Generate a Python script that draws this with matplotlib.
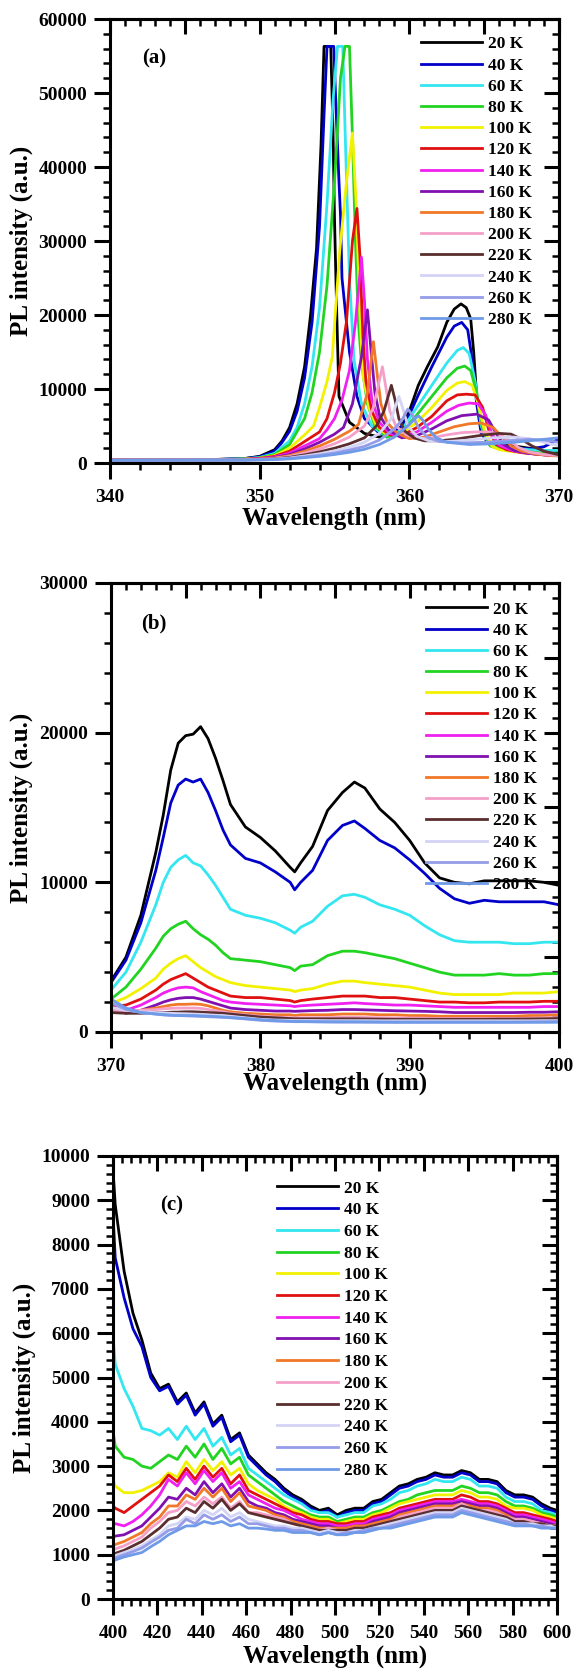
import matplotlib
matplotlib.use("Agg")
import matplotlib.pyplot as plt
from matplotlib.ticker import MultipleLocator, NullFormatter, FormatStrFormatter

plt.rcParams["font.family"] = ["Liberation Serif", "DejaVu Serif"]
plt.rcParams["font.weight"] = "bold"
plt.rcParams["axes.labelweight"] = "bold"

temps = ["20 K", "40 K", "60 K", "80 K", "100 K", "120 K", "140 K",
         "160 K", "180 K", "200 K", "220 K", "240 K", "260 K", "280 K"]
colors = ["#000000", "#0000c8", "#33e6f0", "#22d422", "#f2f200", "#e01010", "#f020f0",
          "#8010b0", "#f07828", "#f4a0c8", "#5a2e2e", "#d4d4f6", "#959ce8", "#6e9ae8"]

# (a) near band edge: (wavelength nm, intensity) per temperature
spec_a = [
    [(340, 420), (344, 440), (347, 480), (349, 600), (350, 900), (351, 1800), (351.5, 3000), (352, 4800),
     (352.5, 8000), (353, 13000), (353.4, 20000), (353.8, 29000), (354.1, 43000), (354.3, 56300),
     (354.75, 56300), (354.9, 45000), (355.0, 33000), (355.15, 20200), (355.3, 9000), (356, 5500),
     (357, 4000), (358, 3500), (359, 4000), (359.5, 5000), (360, 7000), (360.6, 10500), (361.2, 13000),
     (361.9, 15700), (362.5, 19000), (363, 20800), (363.45, 21500), (363.8, 21000), (364.1, 19500),
     (364.3, 15000), (364.5, 9000), (364.8, 4700), (365.3, 2800), (366, 2500), (367, 2300), (368, 2000),
     (369, 1700), (370, 1400)],
    [(340, 420), (344, 440), (347, 470), (349, 600), (350, 850), (351, 1600), (351.5, 2800), (352, 4300),
     (352.5, 7000), (353, 11500), (353.5, 19000), (354, 32000), (354.3, 47000), (354.5, 56300),
     (354.95, 56300), (355.1, 48000), (355.3, 38000), (355.4, 33500), (355.5, 25000), (356, 15000),
     (356.5, 9000), (357, 6000), (358, 4000), (359, 4200), (359.5, 5000), (360, 6500), (360.6, 9200),
     (361.5, 13000), (362.5, 17000), (363, 18500), (363.5, 19000), (363.9, 18000), (364.2, 14000),
     (364.5, 8000), (364.8, 4000), (365.3, 2600), (366, 2300), (367, 2100), (368, 1900), (369, 2200),
     (369.6, 2800), (370, 3300)],
    [(340, 410), (344, 430), (347, 460), (349, 560), (350, 750), (351, 1300), (352, 3000), (352.5, 4800),
     (353, 8000), (353.5, 13000), (354, 21000), (354.5, 35000), (354.9, 49000), (355.2, 56300),
     (355.55, 56300), (355.75, 42000), (356, 25000), (356.3, 14000), (356.8, 8000), (357.5, 5000),
     (358.5, 3500), (359.5, 4500), (360.5, 7500), (361.5, 10500), (362.5, 13500), (363.2, 15200),
     (363.6, 15600), (364, 14800), (364.4, 11000), (364.8, 5000), (365.3, 2600), (366, 2200), (367, 2000),
     (368, 1800), (369, 1700), (370, 1700)],
    [(340, 410), (344, 430), (347, 450), (349, 540), (350, 700), (351, 1150), (352, 2500), (353, 6000),
     (353.5, 9500), (354, 15000), (354.5, 24000), (355, 38000), (355.4, 52000), (355.7, 56300),
     (356.0, 56300), (356.2, 44000), (356.4, 30000), (356.6, 19000), (356.8, 13500), (357.2, 8000),
     (357.7, 5000), (358.5, 3500), (359.5, 4200), (360.5, 6500), (361.5, 9000), (362.5, 11500),
     (363.2, 12800), (363.7, 13100), (364.1, 12500), (364.5, 9500), (364.9, 4500), (365.4, 2300),
     (366, 1900), (367, 1700), (368, 1500), (369, 1300), (370, 1200)],
    [(340, 405), (344, 425), (347, 450), (349, 520), (350, 650), (351, 1000), (352, 2000), (353, 3800),
     (353.6, 5000), (354, 7500), (354.5, 11000), (354.85, 14300), (355.35, 28700), (355.8, 38000),
     (356.2, 44600), (356.45, 35000), (356.7, 20000), (356.9, 12000), (357.3, 7500), (357.8, 5000),
     (358.5, 3800), (359.5, 4000), (360.5, 5500), (361.5, 7500), (362.5, 9800), (363.2, 10800),
     (363.7, 11000), (364.2, 10500), (364.6, 8000), (365, 4500), (365.5, 2300), (366, 1800), (367, 1500),
     (368, 1300), (369, 1150), (370, 1100)],
    [(340, 400), (344, 420), (347, 440), (349, 500), (350, 620), (351, 900), (352, 1600), (353, 2900),
     (354, 4200), (354.5, 6000), (355, 9500), (355.4, 13500), (355.8, 19100), (356.2, 30000),
     (356.5, 34400), (356.7, 28000), (356.9, 17000), (357.1, 11000), (357.5, 7000), (358, 4800),
     (358.7, 3800), (359.5, 3700), (360.5, 4800), (361.5, 6300), (362.5, 8400), (363.2, 9200),
     (363.8, 9300), (364.4, 9200), (364.9, 7500), (365.3, 4500), (365.8, 2500), (366.5, 1800),
     (367.5, 1400), (368.5, 1200), (369.5, 1050), (370, 1000)],
    [(340, 400), (344, 415), (347, 435), (349, 480), (350, 580), (351, 820), (352, 1350), (353, 2300),
     (354, 3300), (354.5, 4500), (355, 6000), (355.5, 8500), (356, 12500), (356.4, 19000), (356.8, 27800),
     (357.0, 22000), (357.2, 14000), (357.5, 8500), (358, 5500), (358.7, 4000), (359.5, 3500),
     (360.5, 4200), (361.5, 5500), (362.5, 7000), (363.3, 7800), (364, 8100), (364.6, 8000), (365.1, 6500),
     (365.5, 4000), (366, 2400), (367, 1600), (368, 1300), (369, 1100), (370, 1000)],
    [(340, 395), (344, 410), (347, 430), (349, 460), (350, 540), (351, 740), (352, 1150), (353, 1900),
     (354, 2800), (355, 3900), (355.6, 4800), (356.2, 8000), (356.8, 14300), (357.2, 20700),
     (357.45, 15000), (357.7, 9500), (358, 6500), (358.6, 4500), (359.5, 3400), (360.5, 3700),
     (361.5, 4600), (362.5, 5700), (363.5, 6400), (364.5, 6600), (365.3, 5800), (365.8, 4000),
     (366.3, 2500), (367, 1700), (368, 1300), (369, 1100), (370, 1000)],
    [(340, 390), (344, 405), (347, 425), (349, 450), (350, 520), (351, 680), (352, 1000), (353, 1600),
     (354, 2300), (355, 3200), (356, 4300), (356.6, 5200), (357.2, 9500), (357.6, 16400), (357.85, 12000),
     (358.1, 8000), (358.5, 5500), (359.2, 4000), (360, 3300), (361, 3500), (362, 4200), (363, 4900),
     (364, 5300), (364.8, 5400), (365.6, 4800), (366.2, 3500), (366.8, 2300), (367.5, 1600),
     (368.5, 1200), (369.5, 1000), (370, 950)],
    [(340, 385), (344, 400), (347, 420), (349, 440), (350, 500), (351, 620), (352, 880), (353, 1350),
     (354, 1900), (355, 2600), (356, 3500), (357, 5000), (357.6, 7500), (358.2, 13000), (358.45, 10000),
     (358.7, 7000), (359.1, 5000), (359.8, 3800), (360.5, 3300), (361.5, 3400), (362.5, 3800),
     (363.5, 4100), (364.5, 4200), (365.3, 4200), (366, 3900), (366.7, 3000), (367.3, 2100), (368, 1500),
     (369, 1150), (370, 1000)],
    [(340, 380), (344, 395), (347, 410), (349, 420), (350, 470), (351, 570), (352, 760), (353, 1100),
     (354, 1500), (355, 2000), (356, 2600), (357, 3400), (357.8, 5000), (358.3, 7000), (358.8, 10500),
     (359.05, 8500), (359.3, 6000), (359.7, 4300), (360.3, 3400), (361, 3000), (362, 3000), (363, 3200),
     (364, 3500), (365, 3800), (366, 4000), (366.8, 3900), (367.5, 3200), (368.2, 2300), (369, 1600),
     (370, 1100)],
    [(340, 380), (344, 390), (347, 400), (349, 410), (350, 450), (351, 530), (352, 680), (353, 950),
     (354, 1250), (355, 1650), (356, 2100), (357, 2800), (358, 4000), (358.8, 6000), (359.3, 9000),
     (359.55, 7500), (359.9, 5000), (360.5, 3600), (361.3, 3000), (362.5, 2900), (364, 3100),
     (365.5, 3400), (367, 3500), (368, 3300), (369, 2800), (370, 2300)],
    [(340, 375), (344, 385), (347, 395), (349, 400), (350, 430), (351, 500), (352, 620), (353, 820),
     (354, 1050), (355, 1350), (356, 1750), (357, 2250), (358, 3100), (359, 4600), (359.5, 5800),
     (359.9, 7300), (360.2, 6500), (360.6, 4800), (361.2, 3500), (362, 2900), (363.5, 2700), (365, 2800),
     (366.5, 3000), (368, 3200), (369, 3100), (370, 2800)],
    [(340, 370), (344, 380), (347, 390), (349, 395), (350, 410), (351, 470), (352, 560), (353, 720),
     (354, 900), (355, 1150), (356, 1450), (357, 1850), (358, 2500), (359, 3500), (360, 5200),
     (360.6, 6400), (360.9, 5800), (361.3, 4500), (361.8, 3400), (362.5, 2800), (364, 2500),
     (365.5, 2600), (367, 2800), (368.5, 3100), (369.5, 3300), (370, 3400)],
]

# (b) 370-400 nm, shared wavelength grid
wl_b = [370, 371, 372, 373, 373.5, 374, 374.5, 375, 375.5, 376, 376.5, 377, 377.5, 378, 379, 380,
        381, 382, 382.3, 382.7, 383.5, 384.5, 385.5, 386.3, 387, 388, 389, 390, 391, 392, 393, 394,
        395, 396, 397, 398, 399, 400]
pl_b = [
    [3400, 5000, 7800, 12000, 14500, 17500, 19300, 19800, 19900, 20400, 19600, 18300, 16800, 15200,
     13700, 13000, 12100, 11000, 10700, 11300, 12400, 14800, 16000, 16700, 16300, 14900, 14000, 12800,
     11300, 10300, 10000, 9900, 10100, 10100, 10100, 10100, 10000, 9800],
    [3300, 4800, 7300, 10800, 13000, 15300, 16500, 16900, 16700, 16900, 16000, 14800, 13500, 12500,
     11600, 11300, 10700, 10000, 9500, 10000, 10800, 12800, 13800, 14100, 13600, 12800, 12300, 11500,
     10600, 9600, 8900, 8600, 8800, 8700, 8700, 8700, 8700, 8500],
    [2800, 4000, 6000, 8500, 10000, 11000, 11500, 11800, 11300, 11100, 10500, 9800, 9000, 8200,
     7800, 7600, 7300, 6800, 6600, 7000, 7400, 8400, 9100, 9200, 9000, 8500, 8200, 7800,
     7100, 6500, 6100, 6000, 6000, 6000, 5900, 5900, 6000, 6000],
    [2200, 3000, 4200, 5600, 6400, 6900, 7200, 7400, 6900, 6500, 6200, 5800, 5300, 4900,
     4800, 4700, 4500, 4300, 4100, 4400, 4500, 5100, 5400, 5400, 5300, 5100, 4900, 4600,
     4300, 4000, 3800, 3800, 3800, 3900, 3800, 3800, 3900, 3900],
    [1900, 2300, 2900, 3600, 4200, 4600, 4900, 5100, 4700, 4300, 4000, 3700, 3500, 3300,
     3100, 3000, 2900, 2800, 2700, 2800, 2900, 3200, 3400, 3400, 3300, 3200, 3100, 3000,
     2800, 2600, 2500, 2500, 2500, 2500, 2600, 2600, 2600, 2700],
    [1700, 1800, 2200, 2800, 3200, 3500, 3700, 3900, 3600, 3300, 3000, 2800, 2600, 2400,
     2300, 2300, 2200, 2100, 2000, 2100, 2200, 2300, 2400, 2400, 2400, 2300, 2300, 2200,
     2100, 2000, 2000, 1950, 1950, 2000, 2000, 2000, 2050, 2050],
    [1500, 1450, 1800, 2300, 2600, 2800, 2950, 3000, 2950, 2700, 2500, 2300, 2100, 2000,
     1900, 1850, 1800, 1750, 1700, 1750, 1800, 1850, 1900, 1950, 1900, 1850, 1800, 1800,
     1750, 1700, 1650, 1650, 1650, 1650, 1650, 1650, 1700, 1700],
    [1700, 1250, 1450, 1800, 2000, 2150, 2250, 2300, 2300, 2200, 2050, 1900, 1750, 1600,
     1500, 1450, 1400, 1400, 1380, 1400, 1430, 1450, 1500, 1500, 1480, 1450, 1420, 1400,
     1380, 1350, 1300, 1300, 1300, 1300, 1300, 1320, 1320, 1350],
    [1550, 1300, 1450, 1600, 1700, 1800, 1850, 1850, 1870, 1850, 1750, 1600, 1450, 1350,
     1250, 1200, 1150, 1150, 1100, 1150, 1150, 1150, 1200, 1200, 1200, 1150, 1150, 1100,
     1100, 1050, 1050, 1050, 1050, 1050, 1050, 1100, 1100, 1150],
    [1450, 1400, 1450, 1500, 1550, 1580, 1600, 1600, 1600, 1580, 1500, 1420, 1350, 1250,
     1150, 1050, 1000, 950, 950, 950, 950, 960, 980, 980, 970, 950, 940, 930,
     920, 900, 900, 900, 900, 900, 900, 920, 940, 950],
    [1300, 1250, 1250, 1300, 1300, 1320, 1330, 1350, 1350, 1330, 1300, 1280, 1250, 1200,
     1100, 1000, 950, 900, 880, 880, 880, 880, 880, 880, 870, 860, 850, 850,
     850, 850, 850, 850, 850, 860, 860, 870, 880, 900],
    [1650, 1450, 1350, 1300, 1280, 1250, 1230, 1220, 1200, 1180, 1150, 1120, 1100, 1050,
     950, 850, 800, 780, 770, 770, 770, 760, 760, 760, 760, 750, 750, 750,
     750, 750, 750, 750, 750, 750, 750, 750, 760, 760],
    [1950, 1500, 1300, 1200, 1150, 1120, 1100, 1080, 1060, 1040, 1020, 1000, 980, 950,
     870, 780, 730, 700, 690, 690, 680, 670, 660, 660, 660, 660, 660, 660,
     660, 660, 660, 660, 660, 660, 660, 670, 680, 700],
    [2200, 1600, 1300, 1200, 1150, 1120, 1100, 1100, 1100, 1080, 1060, 1030, 1000, 970,
     900, 820, 760, 720, 700, 700, 690, 680, 680, 680, 670, 660, 650, 650,
     650, 650, 650, 650, 650, 650, 650, 650, 650, 650],
]

# (c) visible range 400-600 nm, shared wavelength grid
wl_c = [400, 401, 405, 409, 413, 417, 421, 425, 429, 433, 437, 441, 445, 449, 453, 457, 461, 465,
        469, 473, 477, 481, 485, 489, 493, 497, 501, 505, 509, 513, 517, 521, 525, 529, 533, 537,
        541, 545, 549, 553, 557, 561, 565, 569, 573, 577, 581, 585, 589, 593, 597, 600]
pl_c = [
    [9700, 8900, 7400, 6450, 5850, 5100, 4750, 4850, 4450, 4650, 4200, 4450, 3950, 4150, 3600, 3750,
     3250, 3050, 2850, 2700, 2500, 2350, 2250, 2100, 2000, 2050, 1900, 2000, 2050, 2050, 2200, 2250,
     2400, 2550, 2600, 2700, 2750, 2850, 2800, 2800, 2900, 2850, 2700, 2700, 2650, 2450, 2350, 2350,
     2300, 2150, 2050, 2000],
    [8700, 7700, 6800, 6100, 5700, 5000, 4700, 4800, 4400, 4600, 4150, 4400, 3900, 4100, 3550, 3700,
     3200, 3000, 2800, 2650, 2450, 2300, 2200, 2050, 1950, 2000, 1850, 1950, 2000, 2000, 2150, 2200,
     2350, 2500, 2550, 2650, 2700, 2800, 2750, 2750, 2850, 2800, 2650, 2650, 2600, 2400, 2300, 2300,
     2250, 2100, 2000, 1950],
    [5950, 5300, 4750, 4350, 3850, 3800, 3700, 3850, 3600, 3900, 3600, 3850, 3450, 3650, 3250, 3400,
     2950, 2800, 2650, 2500, 2350, 2250, 2150, 2000, 1950, 1950, 1850, 1900, 1950, 1950, 2100, 2150,
     2250, 2400, 2450, 2550, 2600, 2700, 2650, 2650, 2750, 2700, 2550, 2550, 2500, 2300, 2200, 2200,
     2150, 2000, 1950, 1900],
    [3800, 3450, 3200, 3150, 3000, 2950, 3100, 3250, 3150, 3450, 3200, 3500, 3150, 3400, 3050, 3200,
     2800, 2650, 2500, 2350, 2200, 2100, 2000, 1900, 1850, 1850, 1750, 1800, 1850, 1850, 1950, 2000,
     2100, 2200, 2250, 2350, 2400, 2450, 2450, 2450, 2550, 2500, 2400, 2400, 2350, 2200, 2100, 2100,
     2050, 1950, 1900, 1850],
    [2700, 2550, 2400, 2400, 2450, 2550, 2650, 2850, 2750, 3100, 2850, 3150, 2900, 3100, 2800, 2950,
     2600, 2450, 2350, 2250, 2100, 2000, 1950, 1850, 1800, 1800, 1700, 1750, 1800, 1800, 1900, 1950,
     2050, 2150, 2200, 2250, 2300, 2350, 2350, 2350, 2450, 2400, 2300, 2300, 2250, 2100, 2050, 2050,
     2000, 1900, 1850, 1800],
    [2100, 2050, 1950, 2100, 2250, 2400, 2550, 2800, 2650, 2950, 2700, 3000, 2750, 2950, 2600, 2800,
     2450, 2350, 2250, 2150, 2050, 1950, 1900, 1800, 1750, 1750, 1700, 1700, 1750, 1750, 1850, 1900,
     1950, 2050, 2100, 2150, 2200, 2250, 2250, 2250, 2350, 2300, 2200, 2200, 2150, 2050, 1950, 1950,
     1900, 1850, 1800, 1750],
    [1700, 1700, 1650, 1750, 1900, 2100, 2350, 2700, 2550, 2850, 2600, 2900, 2650, 2850, 2500, 2650,
     2350, 2250, 2150, 2050, 2000, 1900, 1800, 1750, 1700, 1700, 1650, 1650, 1700, 1700, 1800, 1850,
     1900, 2000, 2050, 2100, 2150, 2200, 2200, 2200, 2250, 2200, 2150, 2150, 2100, 2000, 1900, 1900,
     1850, 1800, 1750, 1700],
    [1400, 1420, 1450, 1550, 1650, 1850, 2050, 2300, 2250, 2500, 2350, 2650, 2400, 2600, 2300, 2500,
     2200, 2100, 2050, 1950, 1900, 1800, 1750, 1700, 1650, 1650, 1600, 1600, 1650, 1650, 1750, 1800,
     1850, 1950, 2000, 2050, 2100, 2150, 2150, 2150, 2200, 2150, 2100, 2100, 2050, 1950, 1850, 1850,
     1800, 1750, 1700, 1650],
    [1200, 1230, 1300, 1400, 1500, 1700, 1850, 2100, 2100, 2350, 2250, 2500, 2300, 2500, 2200, 2400,
     2100, 2050, 2000, 1900, 1850, 1750, 1700, 1650, 1600, 1600, 1600, 1600, 1650, 1650, 1700, 1750,
     1800, 1900, 1950, 2000, 2050, 2100, 2100, 2100, 2150, 2100, 2050, 2050, 2000, 1900, 1800, 1800,
     1750, 1700, 1650, 1650],
    [1100, 1130, 1200, 1300, 1400, 1600, 1750, 1950, 2000, 2200, 2100, 2300, 2150, 2300, 2050, 2200,
     1950, 1950, 1900, 1850, 1800, 1700, 1650, 1600, 1550, 1600, 1550, 1550, 1600, 1600, 1650, 1700,
     1750, 1850, 1900, 1950, 2000, 2050, 2050, 2050, 2150, 2050, 2000, 2000, 1950, 1850, 1800, 1800,
     1750, 1700, 1650, 1650],
    [1000, 1030, 1100, 1200, 1300, 1450, 1600, 1800, 1850, 2050, 1950, 2200, 2050, 2250, 2000, 2150,
     1950, 1900, 1850, 1800, 1750, 1700, 1650, 1600, 1550, 1550, 1550, 1550, 1600, 1600, 1650, 1700,
     1750, 1800, 1850, 1900, 1950, 2000, 2000, 2000, 2100, 2050, 2000, 1950, 1900, 1850, 1750, 1750,
     1700, 1700, 1650, 1650],
    [950, 980, 1050, 1120, 1200, 1330, 1450, 1650, 1700, 1850, 1800, 2000, 1900, 2050, 1850, 1950,
     1800, 1750, 1700, 1650, 1650, 1600, 1600, 1550, 1500, 1550, 1500, 1500, 1550, 1550, 1600, 1650,
     1700, 1750, 1800, 1850, 1900, 1950, 1950, 1950, 2050, 2000, 1950, 1900, 1850, 1800, 1700, 1700,
     1700, 1650, 1650, 1600],
    [900, 930, 1000, 1070, 1150, 1280, 1400, 1550, 1600, 1800, 1700, 1900, 1800, 1900, 1750, 1850,
     1700, 1700, 1650, 1600, 1600, 1550, 1550, 1500, 1450, 1500, 1450, 1500, 1500, 1550, 1600, 1600,
     1650, 1700, 1750, 1800, 1850, 1900, 1900, 1900, 2000, 1950, 1900, 1850, 1800, 1750, 1700, 1700,
     1650, 1650, 1600, 1600],
    [850, 880, 950, 1000, 1050, 1180, 1300, 1450, 1550, 1650, 1650, 1750, 1700, 1750, 1650, 1700,
     1600, 1600, 1580, 1550, 1550, 1500, 1500, 1500, 1450, 1500, 1450, 1450, 1500, 1500, 1550, 1600,
     1600, 1650, 1700, 1750, 1800, 1850, 1850, 1850, 1950, 1900, 1850, 1800, 1750, 1700, 1650, 1650,
     1650, 1600, 1600, 1600],
]


def style_axes(ax, xlim, ylim, bottom, left, top, right):
    ax.set_xlim(*xlim)
    ax.set_ylim(*ylim)
    ax.xaxis.set_major_locator(MultipleLocator(bottom[0]))
    ax.xaxis.set_minor_locator(MultipleLocator(bottom[1]))
    ax.yaxis.set_major_locator(MultipleLocator(left[0]))
    ax.yaxis.set_minor_locator(MultipleLocator(left[1]))
    ax.xaxis.set_major_formatter(FormatStrFormatter("%d"))
    ax.yaxis.set_major_formatter(FormatStrFormatter("%d"))
    ax.tick_params(which="both", direction="out", top=False, right=False, width=2.2, labelsize=14)
    ax.tick_params(which="major", length=11.5)
    ax.tick_params(which="minor", length=5, width=1.8)
    ax.tick_params(axis="x", pad=7)
    ax.tick_params(axis="y", pad=5)
    for sp in ax.spines.values():
        sp.set_linewidth(2.2)

    # mirrored axes with inward ticks
    tx = ax.secondary_xaxis("top")
    tx.xaxis.set_major_locator(MultipleLocator(top[0]))
    tx.xaxis.set_minor_locator(MultipleLocator(top[1]))
    tx.xaxis.set_major_formatter(NullFormatter())
    tx.tick_params(which="both", direction="in", width=2.2)
    tx.tick_params(which="major", length=11)
    tx.tick_params(which="minor", length=5, width=1.8)
    tx.spines["top"].set_linewidth(2.2)

    ry = ax.secondary_yaxis("right")
    ry.yaxis.set_major_locator(MultipleLocator(right[0]))
    ry.yaxis.set_minor_locator(MultipleLocator(right[1]))
    ry.yaxis.set_major_formatter(NullFormatter())
    ry.tick_params(which="both", direction="in", width=2.2)
    ry.tick_params(which="major", length=11)
    ry.tick_params(which="minor", length=5, width=1.8)
    ry.spines["right"].set_linewidth(2.2)

    ax.set_xlabel("Wavelength (nm)", fontsize=18, fontweight="bold")
    ax.set_ylabel("PL intensity (a.u.)", fontsize=18, fontweight="bold")


def add_legend(ax, x, y, spacing):
    ax.legend(loc="upper left", bbox_to_anchor=(x, y), frameon=False, fontsize=12.5,
              handlelength=3.5, handletextpad=0.35, labelspacing=spacing, borderpad=0,
              borderaxespad=0)


fig = plt.figure(figsize=(5.76, 16.72), dpi=100)
ax_a = fig.add_axes([110 / 576, 1 - 463 / 1672, 449 / 576, 444 / 1672])
ax_b = fig.add_axes([111 / 576, 1 - 1032 / 1672, 448 / 576, 449 / 1672])
ax_c = fig.add_axes([113 / 576, 1 - 1599 / 1672, 444 / 576, 443 / 1672])

for pts, t, c in zip(spec_a, temps, colors):
    xs, ys = zip(*pts)
    ax_a.plot(xs, ys, color=c, lw=2.0, label=t)
for ys, t, c in zip(pl_b, temps, colors):
    ax_b.plot(wl_b, ys, color=c, lw=2.0, label=t)
for ys, t, c in zip(pl_c, temps, colors):
    ax_c.plot(wl_c, ys, color=c, lw=2.0, label=t)

style_axes(ax_a, (340, 370), (0, 60000), (10, 2), (10000, 2000), (5, 1), (10000, 2000))
style_axes(ax_b, (370, 400), (0, 30000), (10, 2), (10000, 2000), (5, 1), (5000, 1000))
style_axes(ax_c, (400, 600), (0, 10000), (20, 4), (1000, 200), (20, 4), (1000, 200))

add_legend(ax_a, 0.693, 0.961, 0.29)
add_legend(ax_b, 0.703, 0.959, 0.29)
add_legend(ax_c, 0.369, 0.945, 0.32)

for ax, lab, px, py in [(ax_a, "(a)", 0.098, 0.912), (ax_b, "(b)", 0.096, 0.909),
                        (ax_c, "(c)", 0.133, 0.889)]:
    ax.text(px, py, lab, transform=ax.transAxes, fontsize=15, fontweight="bold",
            ha="center", va="center")

ax_a.yaxis.set_label_coords(-0.171, 0.5)
ax_b.yaxis.set_label_coords(-0.174, 0.5)
ax_c.yaxis.set_label_coords(-0.173, 0.5)
ax_a.xaxis.set_label_coords(0.5, -0.099)
ax_b.xaxis.set_label_coords(0.5, -0.089)
ax_c.xaxis.set_label_coords(0.5, -0.102)

fig.savefig("out.png", dpi=100)
